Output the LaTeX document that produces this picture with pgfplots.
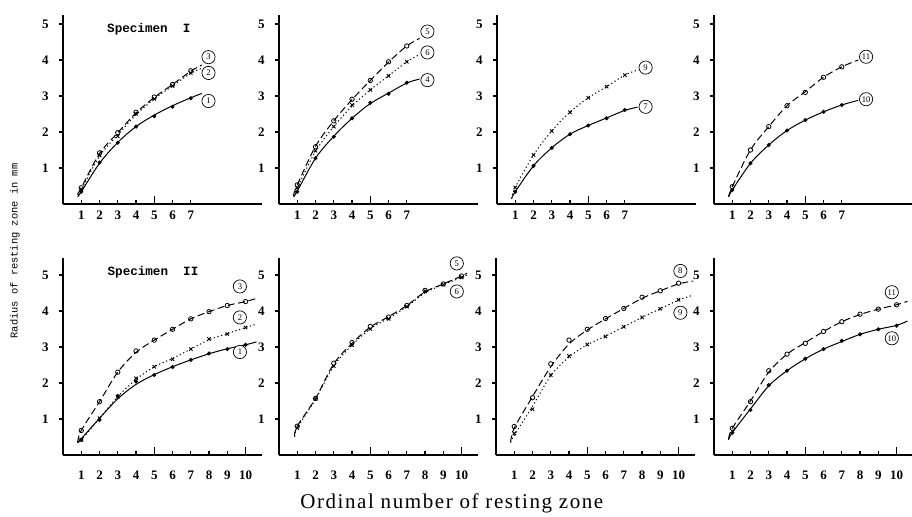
\documentclass[border=0pt]{standalone}
\usepackage{fontspec}
\setmainfont{Liberation Serif}
\newfontfamily\monof{Liberation Mono}
\newfontfamily\xlabf[LetterSpace=7.5]{Liberation Serif}
\usepackage{pgfplots}
\pgfplotsset{compat=1.18}
\tikzset{clab/.style={circle,draw,fill=white,line width=0.35pt,inner sep=0pt,minimum size=6.6pt,font=\fontsize{4.3}{4.5}\selectfont}}
\pgfplotsset{
 panel/.style={scale only axis, anchor=south west, width=99.5pt, xmin=0, xmax=10.9, ymin=0,
  axis lines=left, axis line style={-, line width=0.7pt},
  ytick={1,2,3,4,5}, ytick align=outside, xtick align=inside,
  major tick length=2.2pt,
  tick style={line width=0.6pt, black},
  ticklabel style={font=\bfseries\fontsize{6.5}{7}\selectfont},
  yticklabel style={xshift=-1.5pt},
  /pgf/number format/assume math mode=true,
  extra x tick labels={},
  extra x tick style={major tick length=4pt},
  clip=false},
 toprow/.style={panel, height=94.5pt, ymax=5.25, xtick={1,...,7}, extra x ticks={5}},
 botrow/.style={panel, height=98.5pt, ymax=5.47, xtick={1,...,10}, extra x ticks={5,10}, xticklabel style={yshift=-4.5pt}},
 sol/.style={no markers, line width=0.5pt, smooth, tension=0.55, black},
 dsh/.style={sol, dash pattern=on 3.5pt off 1.8pt},
 dtt/.style={sol, dash pattern=on 0.6pt off 1.3pt},
 mdot/.style={only marks, mark=*, mark size=0.8pt, black},
 mo/.style={only marks, mark=o, mark size=1.1pt, black, mark options={fill=white, line width=0.4pt}},
 mx/.style={only marks, mark=x, mark size=1.2pt, black, mark options={line width=0.45pt}},
}
\begin{document}
\begin{tikzpicture}
\useasboundingbox (0,0) rectangle (456pt,258.5pt);
% Panel 1: Specimen I, curves 1,2,3
\begin{axis}[toprow, at={(31.5pt,156.5pt)}]
\addplot[sol] coordinates {(0.8,0.2)(1,0.34)(2,1.13)(3,1.71)(4,2.15)(5,2.47)(6,2.73)(7,2.95)(7.6,3.07)};
\addplot[dtt] coordinates {(0.8,0.25)(1,0.4)(2,1.33)(3,1.92)(4,2.48)(5,2.92)(6,3.28)(7,3.63)(7.6,3.77)};
\addplot[dsh] coordinates {(0.8,0.28)(1,0.45)(2,1.4)(3,1.98)(4,2.53)(5,2.96)(6,3.32)(7,3.69)(7.6,3.86)};
\addplot[mdot] coordinates {(1,0.34)(2,1.15)(3,1.70)(4,2.15)(5,2.44)(6,2.70)(7,2.94)};
\addplot[mx] coordinates {(1,0.4)(2,1.35)(3,1.88)(4,2.5)(5,2.92)(6,3.28)(7,3.64)};
\addplot[mo] coordinates {(1,0.45)(2,1.42)(3,1.98)(4,2.55)(5,2.97)(6,3.32)(7,3.70)};
\node at (axis cs:4.7,4.86) {\monof\bfseries\fontsize{6.3}{7}\selectfont Specimen\ \ I};
\node[clab] at (axis cs:7.97,4.08) {3};
\node[clab] at (axis cs:7.97,3.64) {2};
\node[clab] at (axis cs:7.97,2.86) {1};
\end{axis}
% Panel 2: curves 4,5,6
\begin{axis}[toprow, at={(139.5pt,156.5pt)}]
\addplot[sol] coordinates {(0.8,0.2)(1,0.36)(2,1.27)(3,1.88)(4,2.38)(5,2.79)(6,3.08)(7,3.36)(7.7,3.47)};
\addplot[dtt] coordinates {(0.8,0.22)(1,0.45)(2,1.46)(3,2.15)(4,2.72)(5,3.17)(6,3.56)(7,3.95)(7.7,4.15)};
\addplot[dsh] coordinates {(0.8,0.25)(1,0.53)(2,1.6)(3,2.31)(4,2.9)(5,3.43)(6,3.94)(7,4.39)(7.7,4.6)};
\addplot[mdot] coordinates {(1,0.34)(2,1.27)(3,1.87)(4,2.38)(5,2.81)(6,3.06)(7,3.37)};
\addplot[mx] coordinates {(1,0.45)(2,1.48)(3,2.15)(4,2.75)(5,3.17)(6,3.56)(7,3.95)};
\addplot[mo] coordinates {(1,0.53)(2,1.59)(3,2.31)(4,2.91)(5,3.43)(6,3.95)(7,4.39)};
\node[clab] at (axis cs:8.13,4.79) {5};
\node[clab] at (axis cs:8.13,4.21) {6};
\node[clab] at (axis cs:8.13,3.44) {4};
\end{axis}
% Panel 3: curves 7,9
\begin{axis}[toprow, at={(248.5pt,156.5pt)}]
\addplot[sol] coordinates {(0.8,0.15)(1,0.34)(2,1.06)(3,1.56)(4,1.94)(5,2.18)(6,2.39)(7,2.6)(7.7,2.69)};
\addplot[dtt] coordinates {(0.8,0.15)(1,0.46)(2,1.36)(3,2.03)(4,2.55)(5,2.95)(6,3.26)(7,3.58)(7.7,3.72)};
\addplot[mdot] coordinates {(1,0.34)(2,1.06)(3,1.56)(4,1.94)(5,2.18)(6,2.38)(7,2.61)};
\addplot[mx] coordinates {(1,0.46)(2,1.36)(3,2.03)(4,2.55)(5,2.95)(6,3.26)(7,3.58)};
\node[clab] at (axis cs:8.14,3.79) {9};
\node[clab] at (axis cs:8.14,2.70) {7};
\end{axis}
% Panel 4: curves 10,11
\begin{axis}[toprow, at={(357pt,156.5pt)}]
\addplot[sol] coordinates {(0.8,0.2)(1,0.39)(2,1.13)(3,1.64)(4,2.04)(5,2.33)(6,2.56)(7,2.75)(7.9,2.88)};
\addplot[dsh] coordinates {(0.8,0.2)(1,0.48)(2,1.5)(3,2.15)(4,2.73)(5,3.12)(6,3.52)(7,3.81)(7.9,4.0)};
\addplot[mdot] coordinates {(1,0.39)(2,1.13)(3,1.64)(4,2.04)(5,2.33)(6,2.56)(7,2.75)};
\addplot[mo] coordinates {(1,0.48)(2,1.5)(3,2.15)(4,2.73)(5,3.10)(6,3.52)(7,3.81)};
\node[clab] at (axis cs:8.33,4.09) {11};
\node[clab] at (axis cs:8.33,2.91) {10};
\end{axis}
% Panel 5: Specimen II, curves 1,2,3
\begin{axis}[botrow, at={(31.5pt,31pt)}]
\addplot[sol] coordinates {(0.8,0.35)(1,0.45)(2,1.02)(3,1.56)(4,1.96)(5,2.23)(6,2.45)(7,2.64)(8,2.81)(9,2.95)(10,3.06)(10.6,3.14)};
\addplot[dtt] coordinates {(0.8,0.35)(1,0.42)(2,1.02)(3,1.62)(4,2.1)(5,2.45)(6,2.68)(7,2.94)(8,3.2)(9,3.37)(10,3.54)(10.6,3.63)};
\addplot[dsh] coordinates {(0.8,0.35)(1,0.68)(2,1.48)(3,2.3)(4,2.85)(5,3.19)(6,3.49)(7,3.78)(8,3.98)(9,4.15)(10,4.26)(10.6,4.35)};
\addplot[mdot] coordinates {(1,0.42)(2,0.97)(3,1.64)(4,2.04)(5,2.22)(6,2.44)(7,2.64)(8,2.82)(9,2.94)(10,3.06)};
\addplot[mx] coordinates {(1,0.42)(2,1.02)(3,1.62)(4,2.13)(5,2.45)(6,2.66)(7,2.94)(8,3.22)(9,3.36)(10,3.54)};
\addplot[mo] coordinates {(1,0.68)(2,1.48)(3,2.30)(4,2.89)(5,3.19)(6,3.49)(7,3.78)(8,3.98)(9,4.15)(10,4.26)};
\node at (axis cs:4.93,5.07) {\monof\bfseries\fontsize{6.3}{7}\selectfont Specimen\ \ II};
\node[clab] at (axis cs:9.69,4.68) {3};
\node[clab] at (axis cs:9.69,3.82) {2};
\node[clab] at (axis cs:9.69,2.86) {1};
\end{axis}
% Panel 6: curves 5,6
\begin{axis}[botrow, at={(139.5pt,31pt)}]
\addplot[dtt] coordinates {(0.85,0.51)(1,0.75)(2,1.55)(3,2.47)(4,3.05)(5,3.5)(6,3.8)(7,4.12)(8,4.5)(9,4.73)(10,4.93)(10.3,5.0)};
\addplot[dsh] coordinates {(0.85,0.51)(1,0.8)(2,1.57)(3,2.53)(4,3.1)(5,3.55)(6,3.84)(7,4.15)(8,4.53)(9,4.75)(10,4.97)(10.3,5.05)};
\addplot[mx] coordinates {(1,0.75)(2,1.55)(3,2.47)(4,3.05)(5,3.50)(6,3.78)(7,4.12)(8,4.55)(9,4.73)(10,4.93)};
\addplot[mo] coordinates {(1,0.80)(2,1.57)(3,2.55)(4,3.12)(5,3.57)(6,3.83)(7,4.15)(8,4.57)(9,4.75)(10,4.97)};
\node[clab] at (axis cs:9.74,5.32) {5};
\node[clab] at (axis cs:9.74,4.54) {6};
\end{axis}
% Panel 7: curves 8,9
\begin{axis}[botrow, at={(248pt,31pt)}]
\addplot[dtt] coordinates {(0.8,0.35)(1,0.55)(2,1.35)(3,2.2)(4,2.72)(5,3.06)(6,3.3)(7,3.56)(8,3.82)(9,4.06)(10,4.3)(10.8,4.44)};
\addplot[dsh] coordinates {(0.8,0.35)(1,0.75)(2,1.62)(3,2.45)(4,3.08)(5,3.47)(6,3.78)(7,4.07)(8,4.35)(9,4.56)(10,4.75)(10.8,4.83)};
\addplot[mx] coordinates {(1,0.60)(2,1.27)(3,2.22)(4,2.75)(5,3.07)(6,3.29)(7,3.56)(8,3.82)(9,4.06)(10,4.31)};
\addplot[mo] coordinates {(1,0.79)(2,1.59)(3,2.53)(4,3.19)(5,3.49)(6,3.79)(7,4.07)(8,4.38)(9,4.56)(10,4.77)};
\node[clab] at (axis cs:10.1,5.11) {8};
\node[clab] at (axis cs:10.1,3.95) {9};
\end{axis}
% Panel 8: curves 10,11
\begin{axis}[botrow, at={(357pt,31pt)}]
\addplot[sol] coordinates {(0.8,0.42)(1,0.62)(2,1.28)(3,1.92)(4,2.34)(5,2.67)(6,2.94)(7,3.15)(8,3.35)(9,3.49)(10,3.6)(10.6,3.72)};
\addplot[dsh] coordinates {(0.8,0.45)(1,0.74)(2,1.5)(3,2.3)(4,2.8)(5,3.12)(6,3.43)(7,3.7)(8,3.9)(9,4.05)(10,4.17)(10.6,4.27)};
\addplot[mdot] coordinates {(1,0.62)(2,1.25)(3,1.94)(4,2.34)(5,2.67)(6,2.94)(7,3.17)(8,3.35)(9,3.49)(10,3.59)};
\addplot[mo] coordinates {(1,0.74)(2,1.48)(3,2.34)(4,2.80)(5,3.10)(6,3.43)(7,3.70)(8,3.91)(9,4.05)(10,4.17)};
\node[clab] at (axis cs:9.74,4.52) {11};
\node[clab] at (axis cs:9.74,3.24) {10};
\end{axis}
\node[rotate=90, font=\monof\fontsize{5.2}{6}\selectfont] at (7.5pt,133pt) {Radius of resting zone in mm};
\node[font=\xlabf\fontsize{10.5}{12}\selectfont] at (225.9pt,7pt) {Ordinal number of resting zone};
\end{tikzpicture}
\end{document}
